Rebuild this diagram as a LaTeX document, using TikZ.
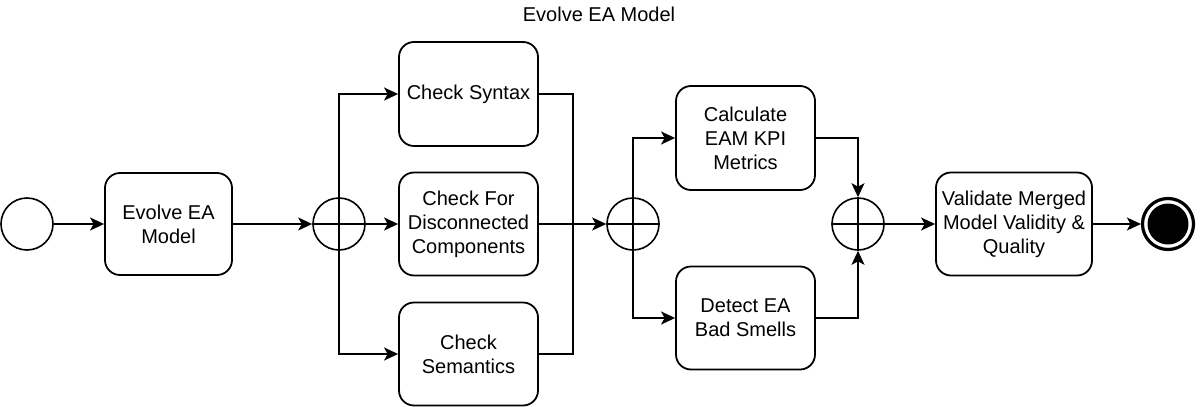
\documentclass[tikz,border=0pt]{standalone}
\usepackage{fontspec}
\setmainfont{Liberation Sans}
\usetikzlibrary{arrows.meta}
\begin{document}
\begin{tikzpicture}[x=1pt,y=-1pt,
  every node/.style={font=\fontsize{20}{24}\selectfont},
  task/.style={draw, line width=1.8pt, rounded corners=15pt, align=center, inner sep=0pt},
  gw/.style={draw, circle, line width=1.6pt, minimum size=52pt, inner sep=0pt},
  flow/.style={line width=1.8pt, -{Stealth[length=14pt,width=13pt,inset=3.5pt]}},
  plain/.style={line width=1.8pt}
]
\useasboundingbox (0,0) rectangle (1200,407);
\node (title) at (599,14) {Evolve EA Model};
\node[draw, circle, line width=1.6pt, minimum size=52pt, inner sep=0pt] (start) at (27,224) {};
\node[task, minimum width=127pt, minimum height=102pt] (evolve) at (168.5,224) {Evolve EA\\Model};
\node[gw] (g1) at (339,224) {};
\node[task, minimum width=139pt, minimum height=104pt] (syn) at (468.5,94) {Check Syntax};
\node[task, minimum width=139pt, minimum height=103pt] (dis) at (468.5,224) {Check For\\Disconnected\\Components};
\node[task, minimum width=139pt, minimum height=103pt] (sem) at (468.5,354) {Check\\Semantics};
\node[gw] (g2) at (633,224) {};
\node[task, minimum width=139pt, minimum height=104pt] (calc) at (745.5,138) {Calculate\\EAM KPI\\Metrics};
\node[task, minimum width=139pt, minimum height=103pt] (det) at (745.5,318) {Detect EA\\Bad Smells};
\node[gw] (g3) at (858,224) {};
\node[task, minimum width=156pt, minimum height=103pt] (val) at (1014,224) {Validate Merged\\Model Validity \&\\Quality};
\node[draw, circle, line width=3.2pt, minimum size=51pt, inner sep=0pt] (end) at (1168,224) {};
\fill (end.center) circle (20.5pt);
% gateway crosses
\foreach \g in {g1,g2,g3}{
  \draw[plain] (\g.north) -- (\g.south);
  \draw[plain] (\g.west) -- (\g.east);
}
% flows
\draw[flow] (start) -- (evolve);
\draw[flow] (evolve) -- (g1);
\draw[flow] (g1.north) |- (syn.west);
\draw[flow] (g1.east) -- (dis.west);
\draw[flow] (g1.south) |- (sem.west);
\coordinate (m1) at (573,224);
\draw[plain] (syn.east) -| (m1);
\draw[plain] (sem.east) -| (m1);
\draw[flow] (dis.east) -- (g2.west);
\draw[flow] (g2.north) |- (calc.west);
\draw[flow] (g2.south) |- (det.west);
\draw[flow] (calc.east) -| (g3.north);
\draw[flow] (det.east) -| (g3.south);
\draw[flow] (g3.east) -- (val.west);
\draw[flow] (val.east) -- (end.west);
\end{tikzpicture}
\end{document}
